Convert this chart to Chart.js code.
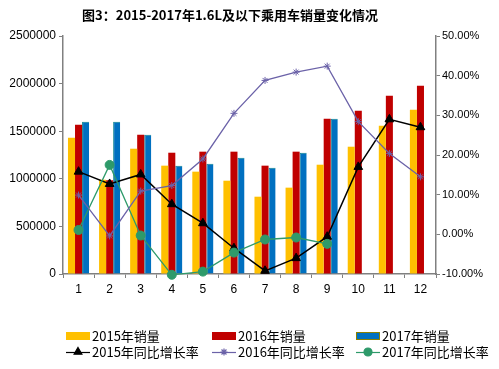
<!DOCTYPE html>
<html><head><meta charset="utf-8">
<script src="https://cdn.jsdelivr.net/npm/chart.js@4/dist/chart.umd.min.js"></script>
<style>html,body{margin:0;padding:0;background:#fff}#wrap{position:relative;width:499px;height:369px}</style>
</head><body><div id="wrap"><canvas id="c" width="499" height="369"></canvas></div>
<script>
const titleText = '图3：2015-2017年1.6L及以下乘用车销量变化情况';
const months = ['1','2','3','4','5','6','7','8','9','10','11','12'];
const sales2015 = [1432000, 990000, 1316000, 1138000, 1075000, 980000, 812000, 907000, 1148000, 1337000, 1558000, 1726000];
const sales2016 = [1568000, 985000, 1463000, 1274000, 1285000, 1285000, 1138000, 1285000, 1631000, 1715000, 1873000, 1978000];
const sales2017 = [1600000, 1600000, 1463000, 1138000, 1159000, 1222000, 1117000, 1274000, 1631000, null, null, null];
const growth2015 = [15.8, 12.7, 15.1, 7.6, 2.8, -3.5, -9.2, -6.0, -0.6, 17.0, 29.0, 27.0];
const growth2016 = [9.9, -0.4, 10.9, 12.3, 19.0, 30.5, 38.8, 40.9, 42.4, 28.4, 20.4, 14.5];
const growth2017 = [1.1, 17.5, -0.3, -10.2, -9.4, -4.6, -1.3, -0.8, -2.4, null, null, null];
const leftTicks = [0, 500000, 1000000, 1500000, 2000000, 2500000];
const rightTicks = [-10, 0, 10, 20, 30, 40, 50];
const legendNames = ['2015年销量','2016年销量','2017年销量','2015年同比增长率','2016年同比增长率','2017年同比增长率'];

const C = {y15:'#FFC000', r16:'#C00000', b17:'#0070C0', b17b:'#0A8290', k:'#000000', p:'#6B62A8', g:'#2E9A6A', axis:'#808080'};

const titlePlugin = {
  id:'titleP',
  afterDraw(chart){
    const ctx = chart.ctx; ctx.save();
    ctx.font = 'bold 13px "Noto Sans CJK SC", sans-serif';
    ctx.fillStyle = '#000'; ctx.textAlign='center'; ctx.textBaseline='middle';
    ctx.fillText(titleText, 230, 15);
    ctx.restore();
  }
};

const legendPlugin = {
  id:'legendP',
  afterDraw(chart){
    const ctx = chart.ctx; ctx.save();
    const cols = [66, 212, 356];
    const rows = [336, 352];
    ctx.font = '13px "Noto Sans CJK SC", sans-serif';
    ctx.textBaseline = 'middle'; ctx.textAlign='left'; ctx.fillStyle='#000';
    // row 1: boxes
    const boxes = [[C.y15,null],[C.r16,null],[C.b17,'#8B8000']];
    boxes.forEach((b,i)=>{
      const x = cols[i], y = rows[0];
      ctx.fillStyle = b[0]; ctx.fillRect(x, y-4, 24, 8);
      if (b[1]) { ctx.strokeStyle=b[1]; ctx.lineWidth=1; ctx.strokeRect(x+0.5, y-3.5, 23, 7); }
      ctx.fillStyle='#000'; ctx.fillText(legendNames[i], x+26, y);
    });
    const lines = [[C.k,'triangle',4.5],[C.p,'star',3.5],[C.g,'circle',4]];
    lines.forEach((l,i)=>{
      const x = cols[i], y = rows[1];
      ctx.strokeStyle = l[0]; ctx.lineWidth = 1.2;
      ctx.beginPath(); ctx.moveTo(x, y+0.5); ctx.lineTo(x+24, y+0.5); ctx.stroke();
      ctx.fillStyle = l[0];
      Chart.helpers.drawPoint(ctx, {pointStyle:l[1], radius:l[2], borderWidth:1, rotation:0}, x+12, y);
      ctx.fillStyle='#000'; ctx.fillText(legendNames[i+3], x+26, y);
    });
    ctx.restore();
  }
};

new Chart(document.getElementById('c'), {
  data: {
    labels: months,
    datasets: [
      {type:'bar', label:legendNames[0], data:sales2015, backgroundColor:C.y15, yAxisID:'y', order:2, barPercentage:1, categoryPercentage:0.68},
      {type:'bar', label:legendNames[1], data:sales2016, backgroundColor:C.r16, yAxisID:'y', order:2, barPercentage:1, categoryPercentage:0.68},
      {type:'bar', label:legendNames[2], data:sales2017, backgroundColor:C.b17, borderColor:C.b17b, borderWidth:{top:1,left:1,right:0,bottom:0}, yAxisID:'y', order:2, barPercentage:1, categoryPercentage:0.68},
      {type:'line', label:legendNames[3], data:growth2015, borderColor:C.k, backgroundColor:C.k, borderWidth:1.5, pointStyle:'triangle', pointRadius:5, pointBorderWidth:1, yAxisID:'y1', order:1, tension:0, clip:10},
      {type:'line', label:legendNames[4], data:growth2016, borderColor:C.p, backgroundColor:C.p, borderWidth:1.3, pointStyle:'star', pointRadius:3.5, pointBorderWidth:1, yAxisID:'y1', order:0, tension:0, clip:10},
      {type:'line', label:legendNames[5], data:growth2017, borderColor:C.g, backgroundColor:C.g, borderWidth:1.3, pointStyle:'circle', pointRadius:4.5, pointBorderWidth:1, yAxisID:'y1', order:0, tension:0, clip:10}
    ]
  },
  options: {
    responsive:false, animation:false,
    layout:{padding:{top:36, bottom:73, left:0, right:0}},
    plugins:{legend:{display:false}, tooltip:{enabled:false}, title:{display:false}},
    scales:{
      x:{
        offset:true,
        grid:{display:true, drawOnChartArea:false, drawTicks:true, tickLength:4, color:C.axis, offset:true},
        border:{display:true, color:C.axis, width:1.5},
        ticks:{color:'#000', font:{family:'"Liberation Sans", Arial', size:12}, padding:4, maxRotation:0},
        afterFit(s){ s.height = 22; }
      },
      y:{
        position:'left', min:0, max:2500000,
        afterBuildTicks(s){ s.ticks = leftTicks.map(v=>({value:v})); },
        grid:{display:true, drawOnChartArea:false, drawTicks:true, tickLength:4, color:C.axis},
        border:{display:true, color:C.axis, width:1.5},
        ticks:{color:'#000', font:{family:'"Liberation Sans", Arial', size:12}, padding:3, callback:v=>String(v)},
        afterFit(s){ s.width = 63; }
      },
      y1:{
        position:'right', min:-10, max:50,
        afterBuildTicks(s){ s.ticks = rightTicks.map(v=>({value:v})); },
        grid:{display:true, drawOnChartArea:false, drawTicks:true, tickLength:4, color:C.axis},
        border:{display:true, color:C.axis, width:1.5},
        ticks:{color:'#000', font:{family:'"Liberation Sans", Arial', size:11}, padding:2, callback:v=>v.toFixed(2)+'%'},
        afterFit(s){ s.width = 63; }
      }
    }
  },
  plugins:[titlePlugin, legendPlugin]
});
</script></body></html>
